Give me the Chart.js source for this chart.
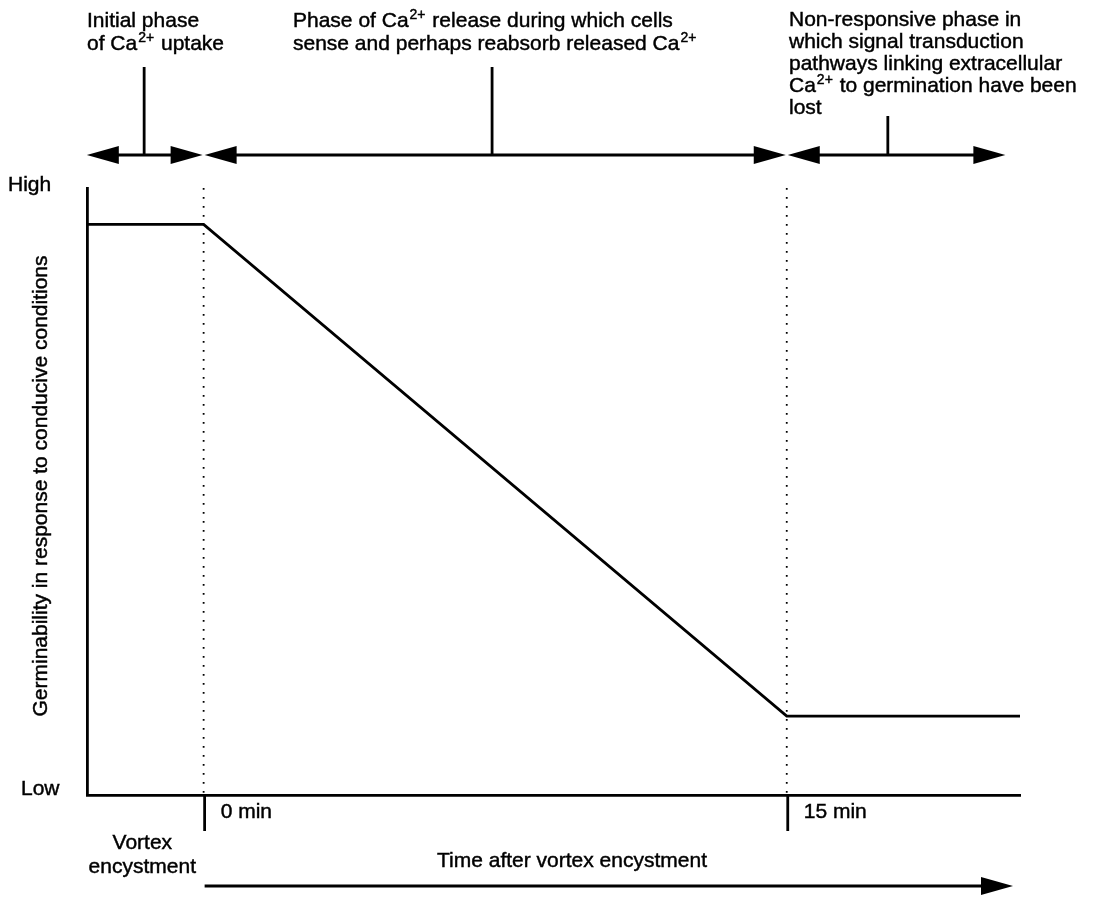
<!DOCTYPE html>
<html lang="en">
<head>
  <meta charset="UTF-8">
  <title>Germinability after vortex encystment</title>
  <script src="https://cdn.jsdelivr.net/npm/chart.js"></script>
  <style>
    body {
      margin: 0;
      background: #fff;
    }
    #wrap {
      width: 1094px;
      height: 897px;
    }
  </style>
</head>
<body>

  <div id="wrap">
    <canvas id="grafiku" width="1094" height="897"></canvas>
  </div>

  <script>
    // minutes after vortex encystment (negative = during encystment)
    const timeMin = [-3, 0, 15, 21];
    // germinability, 0 = low, 100 = high
    const germinability = [94, 94, 13, 13];

    // phase arrows along the top: boundaries and where each label stem joins
    const phaseBounds = [-3.03, 0, 15, 20.65];
    const phaseStems = [-1.53, 7.42, 17.6];
    const phaseLines = [
      ['Initial phase', 'of Ca^{2+} uptake'],
      ['Phase of Ca^{2+} release during which cells', 'sense and perhaps reabsorb released Ca^{2+}'],
      ['Non-responsive phase in', 'which signal transduction', 'pathways linking extracellular',
       'Ca^{2+} to germination have been', 'lost']
    ];

    const markerTimes = [0, 15];
    const markerLabels = ['0 min', '15 min'];
    const levelLabels = ['High', 'Low'];
    const yTitle = 'Germinability in response to conducive conditions';
    const xTitle = 'Time after vortex encystment';
    const preLabel = ['Vortex', 'encystment'];

    const FONT = '"Liberation Sans", Arial, sans-serif';
    const FS = 21;
    const LW = 2.8;

    // filled text with a hairline stroke so it reads a little heavier
    function text(ctx, s, x, y) {
      ctx.fillText(s, x, y);
      ctx.strokeText(s, x, y);
    }

    // text with ^{..} parts drawn as superscript
    function richText(ctx, str, x, y, size) {
      const parts = str.split(/\^\{([^}]*)\}/);
      let cx = x;
      parts.forEach((p, i) => {
        if (!p) return;
        if (i % 2 === 1) {
          ctx.font = Math.round(size * 0.68) + 'px ' + FONT;
          text(ctx, p, cx + 1, y - size * 0.38);
          cx += ctx.measureText(p).width + 2;
        } else {
          ctx.font = size + 'px ' + FONT;
          text(ctx, p, cx, y);
          cx += ctx.measureText(p).width;
        }
      });
    }

    function arrowHead(ctx, tipX, y, dir) {
      ctx.beginPath();
      ctx.moveTo(tipX, y);
      ctx.lineTo(tipX - dir * 32, y - 9);
      ctx.lineTo(tipX - dir * 32, y + 9);
      ctx.closePath();
      ctx.fill();
    }

    function line(ctx, x1, y1, x2, y2) {
      ctx.beginPath();
      ctx.moveTo(x1, y1);
      ctx.lineTo(x2, y2);
      ctx.stroke();
    }

    const annotations = {
      id: 'annotations',
      beforeDatasetsDraw(chart) {
        const { ctx, chartArea: a, scales: { x } } = chart;
        ctx.save();
        ctx.strokeStyle = '#000';
        ctx.lineWidth = 1.8;
        ctx.setLineDash([1.8, 7.2]);
        markerTimes.forEach(t => {
          const px = x.getPixelForValue(t);
          line(ctx, px, a.top, px, a.bottom);
        });
        ctx.restore();
      },
      afterDraw(chart) {
        const { ctx, chartArea: a, scales: { x, y } } = chart;
        ctx.save();
        ctx.fillStyle = '#000';
        ctx.strokeStyle = '#000';
        ctx.lineWidth = LW;
        ctx.textBaseline = 'alphabetic';

        // top phase arrows
        const rowY = 155;
        for (let i = 0; i < phaseBounds.length - 1; i++) {
          const x1 = x.getPixelForValue(phaseBounds[i]) + 1;
          const x2 = x.getPixelForValue(phaseBounds[i + 1]) - 1;
          line(ctx, x1 + 20, rowY, x2 - 20, rowY);
          arrowHead(ctx, x1, rowY, -1);
          arrowHead(ctx, x2, rowY, 1);
          const sx = x.getPixelForValue(phaseStems[i]);
          line(ctx, sx, i === 2 ? 116 : 67, sx, rowY);
        }

        ctx.lineWidth = 0.45;

        // phase labels
        const textLeft = [87, 293, 789];
        const textTop = [27, 27, 26];
        const lh = [23, 23, 22];
        phaseLines.forEach((lines, i) => {
          lines.forEach((s, j) => richText(ctx, s, textLeft[i], textTop[i] + j * lh[i], FS));
        });

        // High / Low
        ctx.font = FS + 'px ' + FONT;
        ctx.textAlign = 'left';
        text(ctx, levelLabels[0], 8, y.getPixelForValue(100) + 3);
        text(ctx, levelLabels[1], 21, y.getPixelForValue(0));

        // y title
        ctx.save();
        ctx.translate(47, 486);
        ctx.rotate(-Math.PI / 2);
        ctx.textAlign = 'center';
        text(ctx, yTitle, 0, 0);
        ctx.restore();

        // minute ticks under the axis
        markerTimes.forEach((t, i) => {
          ctx.lineWidth = LW;
          const px = x.getPixelForValue(t);
          line(ctx, px + 1, a.bottom, px + 1, a.bottom + 36);
          ctx.lineWidth = 0.45;
          text(ctx, markerLabels[i], px + 17, a.bottom + 23);
        });

        // encystment label
        ctx.textAlign = 'center';
        const preX = (x.getPixelForValue(timeMin[0]) + x.getPixelForValue(0)) / 2 - 3;
        text(ctx, preLabel[0], preX, 849);
        text(ctx, preLabel[1], preX, 873);

        // time arrow
        text(ctx, xTitle, 572, 867);
        ctx.lineWidth = LW;
        const ax1 = x.getPixelForValue(0) + 1;
        const ax2 = a.right - 7;
        line(ctx, ax1, 886, ax2 - 20, 886);
        arrowHead(ctx, ax2, 886, 1);

        ctx.restore();
      }
    };

    new Chart(document.getElementById('grafiku'), {
      type: 'line',
      data: {
        datasets: [{
          data: timeMin.map((t, i) => ({ x: t, y: germinability[i] })),
          borderColor: '#000',
          borderWidth: LW,
          pointRadius: 0,
          tension: 0,
          fill: false
        }]
      },
      options: {
        responsive: false,
        animation: false,
        layout: { padding: { left: 87, right: 74, top: 188, bottom: 102 } },
        plugins: {
          legend: { display: false },
          tooltip: { enabled: false }
        },
        scales: {
          x: {
            type: 'linear',
            min: -3,
            max: 21,
            ticks: { display: false },
            grid: { display: false, drawTicks: false },
            border: { display: true, color: '#000', width: LW }
          },
          y: {
            min: 0,
            max: 100,
            ticks: { display: false },
            grid: { display: false, drawTicks: false },
            border: { display: true, color: '#000', width: LW }
          }
        }
      },
      plugins: [annotations]
    });
  </script>

</body>
</html>
